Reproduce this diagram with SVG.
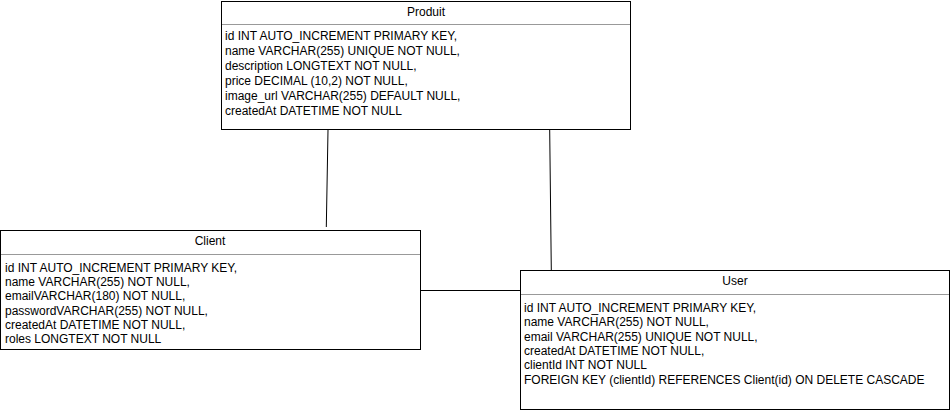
<svg xmlns="http://www.w3.org/2000/svg" width="951" height="419" viewBox="0 0 951 419">
<style>
.box{fill:#fff;stroke:#000;stroke-width:1}
.div{stroke:#999;stroke-width:1}
.t{font-family:"Liberation Sans",Arial,sans-serif;font-size:12px;fill:#000}
.h{text-anchor:middle}
.c{stroke:#000;stroke-width:1;fill:none}
</style>
<rect width="951" height="419" fill="#fff"/>
<g id="connectors">
<path class="c" d="M328,130 L326.3,227"/>
<path class="c" d="M549.7,130 L551.3,270"/>
<path class="c" d="M420,290.5 L520,290.5"/>
</g>
<g id="produit">
<rect class="box" x="221.5" y="1.5" width="409" height="128"/>
<line class="div" x1="222" y1="24.5" x2="630" y2="24.5"/>
<text class="t h" x="426" y="16">Produit</text>
<text class="t" x="225" y="40">id INT AUTO_INCREMENT PRIMARY KEY,</text>
<text class="t" x="225" y="55">name VARCHAR(255) UNIQUE NOT NULL,</text>
<text class="t" x="225" y="70">description LONGTEXT NOT NULL,</text>
<text class="t" x="225" y="85">price DECIMAL (10,2) NOT NULL,</text>
<text class="t" x="225" y="100">image_url VARCHAR(255) DEFAULT NULL,</text>
<text class="t" x="225" y="115">createdAt DATETIME NOT NULL</text>
</g>
<g id="client">
<rect class="box" x="0.5" y="230.5" width="420" height="119"/>
<line class="div" x1="1" y1="254.5" x2="420" y2="254.5"/>
<text class="t h" x="210" y="245">Client</text>
<text class="t" x="5" y="272">id INT AUTO_INCREMENT PRIMARY KEY,</text>
<text class="t" x="5" y="286">name VARCHAR(255) NOT NULL,</text>
<text class="t" x="5" y="300">emailVARCHAR(180) NOT NULL,</text>
<text class="t" x="5" y="315">passwordVARCHAR(255) NOT NULL,</text>
<text class="t" x="5" y="329">createdAt DATETIME NOT NULL,</text>
<text class="t" x="5" y="343">roles LONGTEXT NOT NULL</text>
</g>
<g id="user">
<rect class="box" x="520.5" y="270.5" width="429" height="139"/>
<line class="div" x1="521" y1="294.5" x2="949" y2="294.5"/>
<text class="t h" x="735" y="285">User</text>
<text class="t" x="524" y="312">id INT AUTO_INCREMENT PRIMARY KEY,</text>
<text class="t" x="524" y="326">name VARCHAR(255) NOT NULL,</text>
<text class="t" x="524" y="341">email VARCHAR(255) UNIQUE NOT NULL,</text>
<text class="t" x="524" y="355">createdAt DATETIME NOT NULL,</text>
<text class="t" x="524" y="369">clientId INT NOT NULL</text>
<text class="t" x="524" y="384">FOREIGN KEY (clientId) REFERENCES Client(id) ON DELETE CASCADE</text>
</g>
</svg>
